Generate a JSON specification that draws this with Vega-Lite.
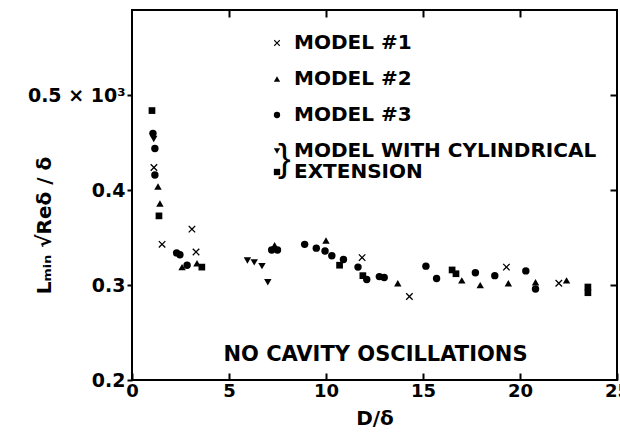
{
  "$schema": "https://vega.github.io/schema/vega-lite/v6.json",
  "width": 485,
  "height": 370,
  "autosize": {"type": "none"},
  "padding": {"left": 132, "top": 10, "right": 3, "bottom": 61},
  "background": "white",
  "config": {
    "view": {"stroke": "black", "strokeWidth": 2},
    "font": "DejaVu Sans",
    "axis": {"labelFont": "DejaVu Sans", "labelFontSize": 18, "labelFontWeight": "bold", "labelColor": "black", "titleFont": "DejaVu Sans", "titleFontSize": 20, "titleFontWeight": "bold", "titleColor": "black", "ticks": true, "tickColor": "black", "tickWidth": 2, "tickOpacity": 1, "domain": false, "grid": false, "zindex": 1},
    "legend": {"labelFont": "DejaVu Sans", "labelFontSize": 20, "labelFontWeight": "bold", "labelColor": "black", "labelLimit": 400}
  },
  "datasets": {
    "points": [
      {"x": 1.03, "y": 0.484, "m": "ext"},
      {"x": 1.08, "y": 0.46, "m": "3"},
      {"x": 1.12, "y": 0.454, "m": "cyl"},
      {"x": 1.18, "y": 0.444, "m": "3"},
      {"x": 1.13, "y": 0.424, "m": "1"},
      {"x": 1.18, "y": 0.416, "m": "3"},
      {"x": 1.34, "y": 0.404, "m": "2"},
      {"x": 1.44, "y": 0.386, "m": "2"},
      {"x": 1.39, "y": 0.373, "m": "ext"},
      {"x": 1.55, "y": 0.343, "m": "1"},
      {"x": 3.09, "y": 0.359, "m": "1"},
      {"x": 3.3, "y": 0.335, "m": "1"},
      {"x": 2.3, "y": 0.334, "m": "3"},
      {"x": 2.47, "y": 0.332, "m": "3"},
      {"x": 2.58, "y": 0.319, "m": "2"},
      {"x": 2.84, "y": 0.321, "m": "3"},
      {"x": 3.35, "y": 0.323, "m": "2"},
      {"x": 3.6, "y": 0.319, "m": "ext"},
      {"x": 5.95, "y": 0.326, "m": "cyl"},
      {"x": 6.3, "y": 0.324, "m": "cyl"},
      {"x": 6.7, "y": 0.32, "m": "cyl"},
      {"x": 7.0, "y": 0.303, "m": "cyl"},
      {"x": 7.2, "y": 0.337, "m": "3"},
      {"x": 7.5, "y": 0.337, "m": "3"},
      {"x": 7.35, "y": 0.342, "m": "2"},
      {"x": 8.9, "y": 0.343, "m": "3"},
      {"x": 9.5, "y": 0.339, "m": "3"},
      {"x": 10.0, "y": 0.347, "m": "2"},
      {"x": 9.95, "y": 0.336, "m": "3"},
      {"x": 10.3, "y": 0.331, "m": "3"},
      {"x": 10.9, "y": 0.327, "m": "3"},
      {"x": 10.7, "y": 0.321, "m": "ext"},
      {"x": 11.86, "y": 0.329, "m": "1"},
      {"x": 11.65, "y": 0.319, "m": "3"},
      {"x": 11.9, "y": 0.31, "m": "ext"},
      {"x": 12.1, "y": 0.306, "m": "3"},
      {"x": 12.75, "y": 0.309, "m": "3"},
      {"x": 13.0, "y": 0.308, "m": "3"},
      {"x": 13.7, "y": 0.302, "m": "2"},
      {"x": 14.3, "y": 0.288, "m": "1"},
      {"x": 15.15, "y": 0.32, "m": "3"},
      {"x": 15.7, "y": 0.307, "m": "3"},
      {"x": 16.5, "y": 0.316, "m": "ext"},
      {"x": 16.7, "y": 0.312, "m": "ext"},
      {"x": 17.0, "y": 0.305, "m": "2"},
      {"x": 17.7, "y": 0.313, "m": "3"},
      {"x": 17.95, "y": 0.3, "m": "2"},
      {"x": 18.7, "y": 0.31, "m": "3"},
      {"x": 19.3, "y": 0.319, "m": "1"},
      {"x": 19.4, "y": 0.302, "m": "2"},
      {"x": 20.3, "y": 0.315, "m": "3"},
      {"x": 20.8, "y": 0.303, "m": "2"},
      {"x": 20.8, "y": 0.296, "m": "3"},
      {"x": 22.0, "y": 0.302, "m": "1"},
      {"x": 22.4, "y": 0.305, "m": "2"},
      {"x": 23.5, "y": 0.298, "m": "ext"},
      {"x": 23.5, "y": 0.292, "m": "ext"}
    ]
  },
  "resolve": {
    "scale": {"shape": "independent"},
    "legend": {"shape": "independent"},
    "axis": {"x": "independent", "y": "independent"}
  },
  "layer": [
    {
      "data": {"name": "points"},
      "transform": [{"filter": "datum.m != 'ext'"}],
      "mark": {"type": "point", "filled": true, "color": "black", "opacity": 1, "size": 55},
      "encoding": {
        "x": {"field": "x", "type": "quantitative", "scale": {"domain": [0, 25], "nice": false, "zero": false},
          "axis": {"orient": "bottom", "values": [0, 5, 10, 15, 20, 25], "ticks": true, "tickSize": 7, "offset": -7, "labelPadding": 2, "labelFlush": false, "title": "D/δ", "titlePadding": 8}},
        "y": {"field": "y", "type": "quantitative", "scale": {"domain": [0.2, 0.59], "nice": false, "zero": false},
          "axis": {"orient": "left", "values": [0.2, 0.3, 0.4, 0.5], "ticks": true, "tickSize": 5, "labelPadding": 2, "labelFontSize": 19, "labelExpr": "datum.value == 0.5 ? '0.5 × 10³' : format(datum.value, '.1f')", "title": "Lₘᵢₙ √Reδ / δ", "titleX": -88, "titleY": 215, "titleAngle": -90, "titleAlign": "center", "titleBaseline": "middle"}},
        "shape": {"field": "m", "type": "nominal",
          "scale": {"domain": ["1", "2", "3", "cyl"], "range": ["M-1,-0.75L-0.75,-1L0,-0.25L0.75,-1L1,-0.75L0.25,0L1,0.75L0.75,1L0,0.25L-0.75,1L-1,0.75L-0.25,0Z", "triangle-up", "circle", "triangle-down"]},
          "legend": {"orient": "none", "legendX": 135, "legendY": 23, "title": null, "symbolSize": 40, "symbolFillColor": "black", "symbolStrokeWidth": 0, "rowPadding": 16, "labelOffset": 7,
            "labelExpr": "datum.value == '1' ? 'MODEL #1' : datum.value == '2' ? 'MODEL #2' : datum.value == '3' ? 'MODEL #3' : 'MODEL WITH CYLINDRICAL'"}}
      }
    },
    {
      "data": {"name": "points"},
      "transform": [{"filter": "datum.m == 'ext'"}],
      "mark": {"type": "point", "filled": true, "color": "black", "opacity": 1, "size": 45},
      "encoding": {
        "x": {"field": "x", "type": "quantitative", "axis": null},
        "y": {"field": "y", "type": "quantitative", "axis": null},
        "shape": {"field": "m", "type": "nominal",
          "scale": {"domain": ["ext"], "range": ["square"]},
          "legend": {"orient": "none", "legendX": 135, "legendY": 152, "title": null, "symbolSize": 40, "symbolFillColor": "black", "symbolStrokeWidth": 0, "labelOffset": 7,
            "labelExpr": "'EXTENSION'"}}
      }
    },
    {
      "data": {"values": [{}]},
      "mark": {"type": "text", "text": "NO CAVITY OSCILLATIONS", "font": "DejaVu Sans", "fontSize": 21, "fontWeight": "bold", "color": "black", "align": "center", "baseline": "middle"},
      "encoding": {
        "x": {"datum": 12.55, "type": "quantitative", "axis": {"orient": "top", "values": [5, 10, 15, 20], "ticks": true, "tickSize": 7, "offset": -7, "labels": false, "title": null}},
        "y": {"datum": 0.226, "type": "quantitative", "axis": {"orient": "right", "values": [0.3, 0.4, 0.5], "ticks": true, "tickSize": 7, "offset": -7, "labels": false, "title": null}}
      }
    },
    {
      "data": {"values": [{}]},
      "mark": {"type": "text", "text": "}", "font": "Liberation Sans", "fontSize": 38, "fontWeight": "normal", "color": "black", "align": "center", "baseline": "middle"},
      "encoding": {
        "x": {"datum": 7.85, "type": "quantitative", "axis": null},
        "y": {"datum": 0.432, "type": "quantitative", "axis": null}
      }
    }
  ]
}
